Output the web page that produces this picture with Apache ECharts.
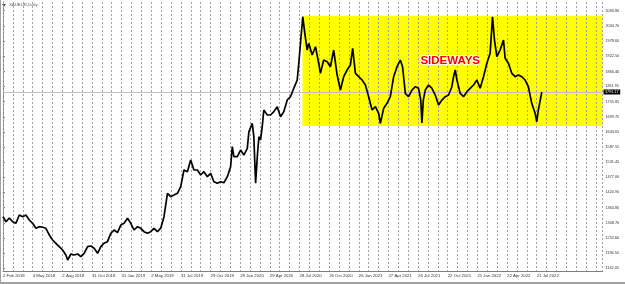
<!DOCTYPE html>
<html><head><meta charset="utf-8">
<script src="https://cdn.jsdelivr.net/npm/echarts@6/dist/echarts.min.js"></script>
<style>html,body{margin:0;padding:0;background:#fff}#c{width:625px;height:284px}</style>
</head><body><div id="c"></div><script>
// Date labels, one every 3 months (x axis unit = month since Feb 2018)
const dateLabels = ['2 Feb 2018','4 May 2018','2 Aug 2018','31 Oct 2018','31 Jan 2019','2 May 2019','31 Jul 2019','29 Oct 2019','29 Jan 2020','29 Apr 2020','28 Jul 2020','26 Oct 2020','26 Jan 2021','27 Apr 2021','26 Jul 2021','22 Oct 2021','21 Jan 2022','22 Apr 2022','21 Jul 2022'];
const labelMonths = dateLabels.map((_, i) => i * 3);
const priceTicks = [2090.80,2034.70,1978.60,1922.50,1866.40,1811.95,1755.85,1699.75,1643.65,1587.55,1531.45,1477.00,1420.90,1364.80,1308.70,1252.60,1196.50,1142.05];
// XAUEUR daily close path: [month, price]
const pricePath = [
[0,1331.3],[0.3,1312.8],[0.64,1326.5],[0.98,1312.8],[1.31,1306.9],[1.65,1337.5],[1.99,1331.3],[2.32,1337.5],[2.66,1319.1],[3.0,1306.9],
[3.33,1288.5],[3.67,1294.4],[4.01,1292.2],[4.34,1288.5],[4.68,1263.8],[5.02,1245.4],[5.35,1233.2],[5.69,1220.7],[6.03,1208.5],[6.36,1190.1],
[6.54,1171.6],[6.87,1193.7],[7.2,1190.1],[7.55,1193.7],[7.88,1183.8],[8.21,1196.3],[8.56,1220.7],[8.89,1223.3],[9.22,1214.7],[9.57,1196.3],
[9.9,1220.7],[10.22,1233.2],[10.57,1239.1],[10.91,1270.1],[11.24,1282.2],[11.59,1272.3],[11.92,1300.7],[12.25,1306.9],[12.6,1325.4],[12.93,1306.9],
[13.26,1282.2],[13.61,1294.4],[13.94,1288.5],[14.27,1276.0],[14.62,1270.1],[14.95,1276.0],[15.28,1288.5],[15.63,1276.0],[15.96,1289.0],[16.29,1331.3],
[16.64,1417.5],[16.97,1405.0],[17.3,1411.3],[17.65,1417.5],[17.98,1441.9],[18.31,1503.5],[18.66,1497.2],[18.99,1540.3],[19.32,1503.5],[19.67,1503.5],
[20.0,1485.0],[20.33,1497.2],[20.68,1478.8],[21.01,1491.3],[21.34,1460.3],[21.69,1454.4],[22.02,1460.3],[22.35,1456.6],[22.7,1478.8],[23.03,1515.6],
[23.2,1589.4],[23.36,1552.5],[23.71,1552.5],[24.04,1577.2],[24.37,1558.7],[24.72,1583.4],[24.88,1644.7],[25.05,1638.8],[25.22,1675.6],[25.38,1626.2],
[25.56,1454.4],[25.73,1552.5],[25.89,1626.2],[26.06,1614.1],[26.23,1663.1],[26.39,1724.7],[26.74,1706.3],[27.07,1706.3],[27.4,1718.4],[27.75,1736.9],
[28.08,1700.0],[28.41,1718.4],[28.76,1761.5],[29.09,1773.7],[29.42,1804.7],[29.77,1835.3],[29.93,1896.9],[30.1,1970.6],[30.33,2068.7],[30.54,2007.5],
[30.78,1945.9],[30.94,1970.6],[31.28,1927.5],[31.62,1958.1],[31.95,1896.9],[32.12,1860.0],[32.45,1909.0],[32.8,1902.8],[33.13,1884.3],[33.46,1945.9],
[33.81,1853.7],[34.14,1798.4],[34.47,1847.5],[34.82,1872.2],[35.15,1890.6],[35.38,1952.1],[35.66,1860.0],[35.99,1847.5],[36.33,1835.3],[36.67,1816.9],
[37.0,1773.7],[37.34,1724.7],[37.68,1736.9],[38.01,1712.5],[38.18,1675.6],[38.52,1731.0],[38.86,1749.4],[39.19,1773.7],[39.53,1847.5],[39.87,1884.3],
[40.2,1909.0],[40.43,1884.3],[40.71,1786.3],[41.04,1773.7],[41.38,1798.4],[41.72,1810.6],[42.05,1804.7],[42.27,1761.5],[42.39,1676.8],[42.53,1761.5],
[42.73,1798.4],[43.06,1816.9],[43.4,1804.7],[43.74,1780.0],[44.07,1743.1],[44.41,1761.5],[44.75,1773.7],[45.08,1780.0],[45.42,1810.6],[45.59,1847.5],
[45.76,1872.2],[45.93,1835.3],[46.26,1786.3],[46.6,1773.7],[46.94,1792.2],[47.27,1804.7],[47.61,1816.9],[47.95,1835.3],[48.28,1804.7],[48.62,1847.5],
[48.96,1896.9],[49.29,1933.7],[49.53,2068.7],[49.73,1982.8],[49.97,1921.2],[50.3,1945.9],[50.64,1982.8],[50.81,1915.3],[51.14,1896.9],[51.48,1860.0],
[51.82,1847.5],[52.15,1853.7],[52.49,1847.5],[52.83,1835.3],[53.16,1810.6],[53.5,1749.4],[53.84,1712.5],[54.01,1681.5],[54.17,1724.7],[54.52,1791.17]
];
const lastPrice = 1791.17;
const symbolName = 'XAUEUR,Daily';
const boxStartMonth = 30.3, boxTop = 2072, boxBottom = 1666;
const noteText = 'SIDEWAYS', noteMonth = 45.25, notePrice = 1905;
const xMin = 0, xMax = 60.66, yMin = 1131, yMax = 2123;

const chart = echarts.init(document.getElementById('c'), null, {renderer: 'canvas'});
chart.setOption({
  animation: false,
  backgroundColor: '#ffffff',
  textStyle: {fontFamily: 'Liberation Sans'},
  grid: {left: 2, right: 22.5, top: 2, bottom: 13},
  xAxis: {
    type: 'value', min: xMin, max: xMax, interval: 1, z: 1.5,
    axisLine: {show: true, lineStyle: {color: '#808080', width: 1}},
    axisTick: {show: false},
    axisLabel: {customValues: labelMonths, formatter: v => dateLabels[Math.round(v / 3)] || '',
      fontSize: 4.3, color: '#333', align: 'left', margin: 3, fontFamily: 'Liberation Sans'},
    splitLine: {show: true, lineStyle: {color: '#a0a0a0', type: [2, 2], width: 1}}
  },
  yAxis: {
    type: 'value', position: 'right', min: yMin, max: yMax,
    axisLine: {show: true, lineStyle: {color: '#808080'}},
    axisTick: {show: true, customValues: priceTicks, length: 2, lineStyle: {color: '#808080'}},
    axisLabel: {customValues: priceTicks, formatter: v => v.toFixed(2), fontSize: 3.8, color: '#333', margin: 3, fontFamily: 'Liberation Sans'},
    splitLine: {show: false}
  },
  series: [{
    type: 'line', data: pricePath, showSymbol: false, z: 2,
    lineStyle: {color: '#000', width: 1.7},
    markArea: {silent: true, itemStyle: {color: '#ffff00', opacity: 1},
      data: [[{xAxis: boxStartMonth, yAxis: boxTop}, {xAxis: xMax, yAxis: boxBottom}]]},
    markLine: {silent: true, symbol: 'none', z: 1.7,
      lineStyle: {color: '#c0c0c0', width: 1, type: 'solid'},
      label: {show: true, position: 'end', formatter: () => lastPrice.toFixed(2), backgroundColor: '#000',
        color: '#fff', fontSize: 3.8, padding: [0.5, 1.5], distance: 1, fontFamily: 'Liberation Sans'},
      data: [{yAxis: lastPrice}]},
    markPoint: {silent: true, symbol: 'circle', symbolSize: 0,
      data: [{coord: [noteMonth, notePrice]}],
      label: {show: true, position: 'inside', formatter: noteText, color: '#ff0000', fontSize: 11.5,
        fontWeight: 'bold', fontFamily: 'Liberation Sans', textBorderColor: '#fff', textBorderWidth: 2}}
  }],
  graphic: [
    {type: 'rect', shape: {x: 0, y: 0, width: 1, height: 284}, style: {fill: '#a0a0a0'}},
    {type: 'rect', shape: {x: 0, y: 282, width: 625, height: 2}, style: {fill: '#a0a0a0'}},
    {type: 'polygon', shape: {points: [[2, 4], [6, 4], [4, 6.5]]}, style: {fill: '#333'}},
    {type: 'text', x: 9, y: 3, style: {text: symbolName, fontSize: 4.3, fill: '#555', fontFamily: 'Liberation Sans'}}
  ]
});
</script></body></html>
